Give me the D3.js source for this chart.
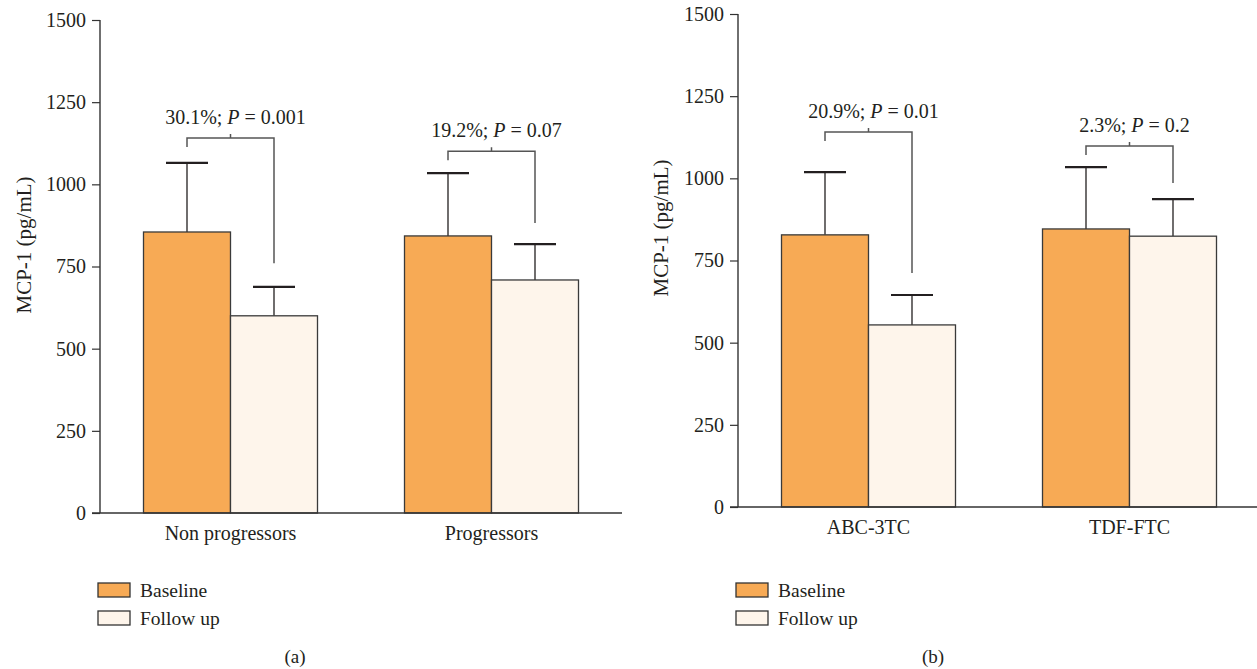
<!DOCTYPE html>
<html>
<head>
<meta charset="utf-8">
<script src="https://cdn.jsdelivr.net/npm/d3@7/dist/d3.min.js"></script>
<style>
body{margin:0;background:#fff;}
text{font-family:"Liberation Serif","Times New Roman",serif;fill:#231f20;}
</style>
</head>
<body>
<svg id="chart" width="1257" height="669"></svg>
<script>
// ---- data ----
const seriesNames = ['Baseline', 'Follow up'];
const yTicks = [0, 250, 500, 750, 1000, 1250, 1500];

const catsA = ['Non progressors', 'Progressors'];
const meanA = [[855, 600], [843, 709]];
const errA = [[1065, 688], [1034, 818]];
const notesA = ['30.1%', '19.2%'];
const pA = ['0.001', '0.07'];
const bracketA = [1141, 1101];
const rightLegA = [760, 882];

const catsB = ['ABC-3TC', 'TDF-FTC'];
const meanB = [[828, 554], [846, 824]];
const errB = [[1019, 645], [1034, 937]];
const notesB = ['20.9%', '2.3%'];
const pB = ['0.01', '0.2'];
const bracketB = [1141, 1098];
const rightLegB = [712, 986];

const colors = ['#f7aa55', '#fef5eb'];
const svg = d3.select('#chart');

function drawPanel(o){
const g = svg.append('g');
const y = d3.scaleLinear().domain([0, 1500]).range([o.y0, o.y1]);
const x = d3.scalePoint().domain(o.cats).range([o.x0, o.x1]).padding(0.5);
const sub = d3.scaleBand().domain(seriesNames).range([-87, 87]);

// y axis
const yAxis = g.append('g').attr('transform', `translate(${o.x0},0)`)
.call(d3.axisLeft(y).tickValues(yTicks).tickSize(8).tickPadding(6).tickFormat(d3.format('d')));
yAxis.select('.domain').remove();
yAxis.selectAll('line').attr('stroke', '#333').attr('stroke-width', 1.2);
yAxis.selectAll('text').style('font-family', '"Liberation Serif",serif').style('font-size', '20px').attr('fill', '#231f20');
g.append('line').attr('x1', o.x0).attr('x2', o.x0).attr('y1', y(1500)).attr('y2', y(0)).attr('stroke', '#333').attr('stroke-width', 1.4);

g.append('text').attr('transform', `translate(${o.titleX},${o.titleY}) rotate(-90)`)
.attr('text-anchor', 'middle').style('font-size', '21px').text('MCP-1 (pg/mL)');

// bars
o.cats.forEach((c, i) => {
seriesNames.forEach((s, j) => {
const bx = x(c) + sub(s);
const cx = bx + sub.bandwidth() / 2;
g.append('line').attr('x1', cx).attr('x2', cx).attr('y1', y(o.mean[i][j])).attr('y2', y(o.err[i][j]))
.attr('stroke', '#231f20').attr('stroke-width', 1.3);
g.append('line').attr('x1', cx - 21).attr('x2', cx + 21).attr('y1', y(o.err[i][j])).attr('y2', y(o.err[i][j]))
.attr('stroke', '#231f20').attr('stroke-width', 2.2);
g.append('rect').attr('x', bx).attr('width', sub.bandwidth())
.attr('y', y(o.mean[i][j])).attr('height', y(0) - y(o.mean[i][j]))
.attr('fill', colors[j]).attr('stroke', '#3a3a3a').attr('stroke-width', 1.3);
});

// significance bracket
const lx = x(c) + sub(seriesNames[0]) + sub.bandwidth() / 2;
const rx = x(c) + sub(seriesNames[1]) + sub.bandwidth() / 2;
const by = y(o.bracket[i]);
g.append('path')
.attr('d', `M${lx},${by + 9}V${by}H${rx}V${y(o.rightLeg[i])}M${(lx + rx) / 2},${by}V${by - 4}`)
.attr('fill', 'none').attr('stroke', '#555').attr('stroke-width', 1.5);
const t = g.append('text').attr('x', (lx + rx) / 2 + 5).attr('y', by - 14).attr('text-anchor', 'middle').style('font-size', '20px');
t.append('tspan').text(o.notes[i] + '; ');
t.append('tspan').style('font-style', 'italic').text('P');
t.append('tspan').text(' = ' + o.p[i]);

g.append('text').attr('x', x(c)).attr('y', y(0) + 27).attr('text-anchor', 'middle').style('font-size', '20px').text(c);
});

// x axis line
g.append('line').attr('x1', o.x0 - 8).attr('x2', o.xEnd).attr('y1', y(0)).attr('y2', y(0)).attr('stroke', '#333').attr('stroke-width', 1.6);

// legend
seriesNames.forEach((s, j) => {
g.append('rect').attr('x', o.lx).attr('y', 583 + j * 28).attr('width', 32).attr('height', 14)
.attr('fill', colors[j]).attr('stroke', '#333').attr('stroke-width', 1.3);
g.append('text').attr('x', o.lx + 42).attr('y', 597 + j * 28).style('font-size', '19.5px').text(s);
});

g.append('text').attr('x', o.capX).attr('y', 663).attr('text-anchor', 'middle').style('font-size', '19px').text(o.caption);
}

drawPanel({x0: 100, x1: 622, xEnd: 622, y0: 513, y1: 20, cats: catsA, mean: meanA, err: errA,
notes: notesA, p: pA, bracket: bracketA, rightLeg: rightLegA, lx: 98, capX: 295, caption: '(a)',
titleX: 31, titleY: 245});
drawPanel({x0: 738, x1: 1260, xEnd: 1257, y0: 507, y1: 14, cats: catsB, mean: meanB, err: errB,
notes: notesB, p: pB, bracket: bracketB, rightLeg: rightLegB, lx: 736, capX: 933, caption: '(b)',
titleX: 668, titleY: 228});
</script>
</body>
</html>
